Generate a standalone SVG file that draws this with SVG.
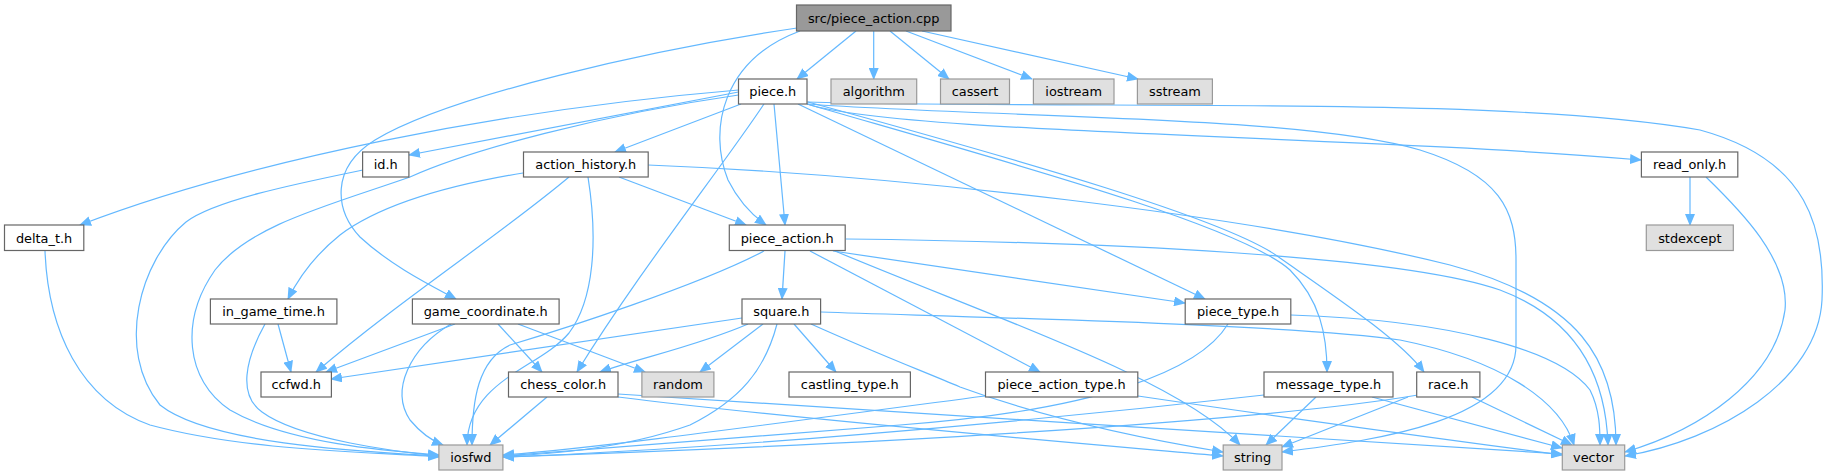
<svg xmlns="http://www.w3.org/2000/svg" width="1827" height="476" viewBox="0 0 1827 476">
<style>
.e{fill:none;stroke:#63b8ff;stroke-width:1.2;marker-end:url(#a)}
.n rect{fill:#fff;stroke:#666;stroke-width:1.2}
.x rect{fill:#e0e0e0;stroke:#999;stroke-width:1.2}
.r rect{fill:#999;stroke:#666;stroke-width:1.2}
text{font-family:"DejaVu Sans",sans-serif;font-size:12.9px;fill:#000;text-anchor:middle}
</style>
<defs>
<marker id="a" markerWidth="12" markerHeight="10" refX="11" refY="5" orient="auto" markerUnits="userSpaceOnUse"><path d="M0,0 L12,5 L0,10 z" fill="#63b8ff"/></marker>
</defs>
<rect width="1827" height="476" fill="#fff"/>
<g id="edges">
<path class="e" d="M856,31 L797,79"/>
<path class="e" d="M873.7,31 L873.7,79"/>
<path class="e" d="M890,31 L949,79"/>
<path class="e" d="M906,31 L1032,79"/>
<path class="e" d="M922,31 L1138,79"/>
<path class="e" d="M797,28 C650,50 450,95 375,140 C330,168 335,210 360,237 C390,265 430,285 456,299"/>
<path class="e" d="M800,31 C722,60 708,130 728,180 C738,200 752,215 766,225"/>
<path class="e" d="M738.5,90 C500,110 250,160 80,225"/>
<path class="e" d="M738.5,92 L409,155"/>
<path class="e" d="M738.5,95 C600,115 470,150 410,177 C330,205 250,225 215,270 C180,320 185,380 230,410 C290,445 400,452 439,455"/>
<path class="e" d="M741,104 L615,152"/>
<path class="e" d="M774,104 L785,225"/>
<path class="e" d="M764,104 C720,170 640,270 577,372"/>
<path class="e" d="M798,104 L1205,299"/>
<path class="e" d="M807,104 C1000,160 1240,225 1290,270 C1320,300 1327,335 1327,372"/>
<path class="e" d="M808,102 C1020,160 1230,220 1280,258 C1340,300 1400,340 1424,372"/>
<path class="e" d="M807,104 C1000,118 1300,115 1420,150 C1500,175 1516,210 1516,260 L1516,345 C1516,420 1380,440 1282,452"/>
<path class="e" d="M807,104 C900,134 1350,135 1641,160"/>
<path class="e" d="M807,102 C1100,110 1500,95 1700,130 C1810,160 1825,230 1822,300 C1818,380 1720,440 1625,456"/>
<path class="e" d="M363,170 C300,183 215,200 186,222 C140,260 115,350 160,405 C210,445 370,452 439,456"/>
<path class="e" d="M45,251 C48,330 80,400 150,425 C250,452 380,452 439,457"/>
<path class="e" d="M523,173 C450,185 380,205 340,235 C315,255 300,275 288,299"/>
<path class="e" d="M569,177 C500,235 400,300 316,372"/>
<path class="e" d="M588,177 C598,240 594,300 569,333 C540,368 468,380 467,445"/>
<path class="e" d="M619,177 L746,225"/>
<path class="e" d="M648,165 C900,175 1250,215 1450,265 C1580,300 1616,360 1616,445"/>
<path class="e" d="M278,324 L291,372"/>
<path class="e" d="M265,324 C245,360 238,395 262,412 C300,440 400,452 439,456"/>
<path class="e" d="M455,324 L326,372"/>
<path class="e" d="M498,324 L542,372"/>
<path class="e" d="M451,324 C410,348 390,390 410,420 C420,432 430,440 443,445"/>
<path class="e" d="M518,324 L645,372"/>
<path class="e" d="M785,251 L782,299"/>
<path class="e" d="M764,251 C700,285 560,330 510,345 C478,360 472,400 472,445"/>
<path class="e" d="M833,251 L1185,303"/>
<path class="e" d="M810,251 L1040,372"/>
<path class="e" d="M835,251 C1000,320 1180,380 1240,445"/>
<path class="e" d="M846,239 C1100,242 1400,255 1500,290 C1580,320 1606,380 1608,445"/>
<path class="e" d="M742,318 L331,379"/>
<path class="e" d="M748,324 C700,345 640,358 600,372"/>
<path class="e" d="M763,324 L700,372"/>
<path class="e" d="M794,324 L836,372"/>
<path class="e" d="M777,324 C765,370 740,400 690,425 C620,450 540,455 503,456"/>
<path class="e" d="M811,324 C880,355 920,370 960,387 C1050,420 1150,440 1223,452"/>
<path class="e" d="M821,312 C1000,318 1300,325 1400,340 C1500,360 1560,400 1574,445"/>
<path class="e" d="M1228,324 C1200,370 1100,410 900,425 C700,440 560,452 503,456"/>
<path class="e" d="M1291,315 C1450,320 1560,350 1590,390 C1600,410 1600,430 1600,445"/>
<path class="e" d="M547,397 L490,445"/>
<path class="e" d="M618,397 C800,420 1100,445 1223,456"/>
<path class="e" d="M618,394 C900,410 1300,440 1562,454"/>
<path class="e" d="M985,396 C800,420 600,448 503,455"/>
<path class="e" d="M1138,396 C1300,420 1450,440 1562,455"/>
<path class="e" d="M1264,395 C1000,425 700,450 503,457"/>
<path class="e" d="M1316,397 L1266,445"/>
<path class="e" d="M1372,397 L1562,448"/>
<path class="e" d="M1418,395 C1300,415 1000,440 503,457"/>
<path class="e" d="M1408,397 L1282,447"/>
<path class="e" d="M1472,397 L1572,445"/>
<path class="e" d="M1690,177 L1690,225"/>
<path class="e" d="M1706,177 C1740,210 1790,260 1785,310 C1775,380 1700,430 1625,452"/>
</g>
<g id="root" class="r"><rect x="796.5" y="5" width="154.5" height="26"/><text x="873.7" y="22.5">src/piece_action.cpp</text></g>
<g id="piece_h" class="n"><rect x="738.5" y="79" width="68.5" height="25"/><text x="772.7" y="96">piece.h</text></g>
<g id="algorithm" class="x"><rect x="831" y="79" width="85.7" height="25"/><text x="873.8" y="96">algorithm</text></g>
<g id="cassert" class="x"><rect x="940.5" y="79" width="69" height="25"/><text x="975" y="96">cassert</text></g>
<g id="iostream" class="x"><rect x="1033.4" y="79" width="80.6" height="25"/><text x="1073.7" y="96">iostream</text></g>
<g id="sstream" class="x"><rect x="1137.4" y="79" width="75" height="25"/><text x="1174.9" y="96">sstream</text></g>
<g id="id_h" class="n"><rect x="362.6" y="152" width="46.3" height="25"/><text x="385.7" y="169">id.h</text></g>
<g id="action_history_h" class="n"><rect x="523.5" y="152" width="124.7" height="25"/><text x="585.8" y="169">action_history.h</text></g>
<g id="read_only_h" class="n"><rect x="1641.4" y="152" width="96.4" height="25"/><text x="1689.6" y="169">read_only.h</text></g>
<g id="delta_t_h" class="n"><rect x="4.5" y="225" width="79.3" height="25.5"/><text x="44.1" y="242.5">delta_t.h</text></g>
<g id="piece_action_h" class="n"><rect x="729.3" y="225" width="115.9" height="25.5"/><text x="787.2" y="242.5">piece_action.h</text></g>
<g id="stdexcept" class="x"><rect x="1646.3" y="225" width="87" height="25.5"/><text x="1689.8" y="242.5">stdexcept</text></g>
<g id="in_game_time_h" class="n"><rect x="210.4" y="299" width="126.5" height="25"/><text x="273.6" y="316">in_game_time.h</text></g>
<g id="game_coordinate_h" class="n"><rect x="412.4" y="299" width="146.7" height="25"/><text x="485.7" y="316">game_coordinate.h</text></g>
<g id="square_h" class="n"><rect x="742" y="299" width="78.6" height="25"/><text x="781.3" y="316">square.h</text></g>
<g id="piece_type_h" class="n"><rect x="1185.2" y="299" width="105.6" height="25"/><text x="1238" y="316">piece_type.h</text></g>
<g id="ccfwd_h" class="n"><rect x="261" y="372" width="70.4" height="25"/><text x="296.2" y="389">ccfwd.h</text></g>
<g id="chess_color_h" class="n"><rect x="508.5" y="372" width="109.5" height="25"/><text x="563.2" y="389">chess_color.h</text></g>
<g id="random" class="x"><rect x="641.9" y="372" width="72" height="25"/><text x="677.9" y="389">random</text></g>
<g id="castling_type_h" class="n"><rect x="789" y="372" width="121.4" height="25"/><text x="849.7" y="389">castling_type.h</text></g>
<g id="piece_action_type_h" class="n"><rect x="985.5" y="372" width="152.3" height="25"/><text x="1061.6" y="389">piece_action_type.h</text></g>
<g id="message_type_h" class="n"><rect x="1264" y="372" width="129" height="25"/><text x="1328.5" y="389">message_type.h</text></g>
<g id="race_h" class="n"><rect x="1416.7" y="372" width="63.2" height="25"/><text x="1448.3" y="389">race.h</text></g>
<g id="iosfwd" class="x"><rect x="438.9" y="445" width="64" height="25"/><text x="470.9" y="462">iosfwd</text></g>
<g id="string" class="x"><rect x="1223.2" y="445" width="58.8" height="25"/><text x="1252.6" y="462">string</text></g>
<g id="vector" class="x"><rect x="1562.3" y="445" width="62.4" height="25"/><text x="1593.5" y="462">vector</text></g>
</svg>
